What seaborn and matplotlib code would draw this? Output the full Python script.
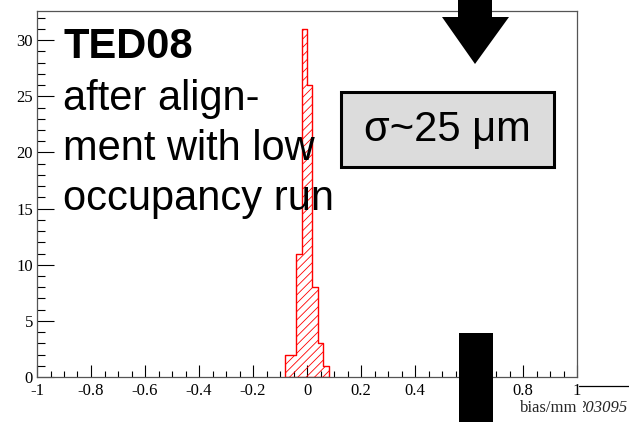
import matplotlib
matplotlib.use("Agg")
import matplotlib.pyplot as plt
from matplotlib.patches import Rectangle, Polygon
from matplotlib.lines import Line2D
from matplotlib.ticker import MultipleLocator
from matplotlib.transforms import Bbox
import numpy as np
import pandas as pd
import seaborn as sns

# residual histogram (bins of 0.02 mm)
binEdges = [-0.08, -0.06, -0.04, -0.02, 0.0, 0.02, 0.04, 0.06, 0.08]
binCounts = [2, 2, 11, 31, 26, 8, 3, 1]
xTicks = [-1, -0.8, -0.6, -0.4, -0.2, 0, 0.2, 0.4, 0.6, 0.8, 1]
xTickLabels = ["-1", "-0.8", "-0.6", "-0.4", "-0.2", "0", "0.2", "0.4", "0.6", "0.8", "1"]
yTicks = [0, 5, 10, 15, 20, 25, 30]
textLines = ["TED08", "after align-", "ment with low", "occupancy run"]
sigmaText = "σ~25 μm"

W, H = 629, 422

sns.set_style("white")
plt.rcParams["hatch.linewidth"] = 0.6
plt.rcParams["hatch.color"] = "red"
plt.rcParams["font.family"] = ["Liberation Serif", "DejaVu Serif"]

df = pd.DataFrame({
    "bias": [(binEdges[i] + binEdges[i + 1]) / 2 for i in range(len(binCounts))],
    "count": binCounts,
})

fig = plt.figure(figsize=(W / 100, H / 100), dpi=100)
ax = fig.add_axes([37 / W, (H - 377) / H, 540 / W, 366 / H])

sns.histplot(data=df, x="bias", weights="count", bins=binEdges, element="step",
             fill=True, color="red", linewidth=1.0, ax=ax)
for coll in ax.collections:
    coll.set_facecolor("none")
    coll.set_edgecolor("red")
    coll.set_hatch("////")

ax.set_xlim(-1, 1)
ax.set_ylim(0, 32.6)
ax.set_xlabel("")
ax.set_ylabel("")
ax.set_xticks(xTicks)
ax.set_xticklabels(xTickLabels)
ax.set_yticks(yTicks)
ax.xaxis.set_minor_locator(MultipleLocator(0.05))
ax.yaxis.set_minor_locator(MultipleLocator(1))
ax.tick_params(axis="both", which="both", direction="in", colors="black",
               labelsize=12, width=0.8, bottom=True, left=True, top=False, right=False)
ax.tick_params(axis="y", which="major", length=12, pad=3)
ax.tick_params(axis="y", which="minor", length=6)
ax.tick_params(axis="x", which="major", length=8.5, pad=4)
ax.tick_params(axis="x", which="minor", length=4.3)
for s in ax.spines.values():
    s.set_visible(True)
    s.set_color("#555555")
    s.set_linewidth(0.9)
ax.grid(False)


def px(x, y):
    return (x / W, 1 - y / H)


# axis title and (partly hidden) run number
fig.text(*px(577, 408), "bias/mm", ha="right", va="center", fontsize=12)
rt = fig.text(*px(578, 408), "203095", ha="left", va="center", fontsize=12, style="italic")
rt.set_clip_box(Bbox([[583, 0], [W, H]]))
rt.set_clip_on(True)
fig.add_artist(Line2D([579 / W, 1], [1 - 386 / H] * 2, color="black", lw=0.9,
                      transform=fig.transFigure))

# slide annotations
sans = ["Liberation Sans", "DejaVu Sans"]
baselines = [58, 110, 160, 210]
for i, (line, yb) in enumerate(zip(textLines, baselines)):
    fig.text(*px(63, yb), line, ha="left", va="baseline", fontsize=30,
             family=sans, fontweight="bold" if i == 0 else "normal", color="black")

fig.add_artist(Rectangle(px(341, 167), 213 / W, 75 / H, transform=fig.transFigure,
                         facecolor="#dcdcdc", edgecolor="black", linewidth=2.2, zorder=4))
fig.text(*px(447, 130), sigmaText, ha="center", va="center", fontsize=30, family=sans,
         color="black", zorder=5)

# arrows / markers
fig.add_artist(Rectangle(px(458, 18), 34 / W, 18 / H, transform=fig.transFigure,
                         facecolor="black", edgecolor="none"))
fig.add_artist(Polygon([px(442, 17), px(509, 17), px(475, 64)], closed=True,
                       transform=fig.transFigure, facecolor="black", edgecolor="none"))
fig.add_artist(Rectangle(px(459, 422), 34 / W, 89 / H, transform=fig.transFigure,
                         facecolor="black", edgecolor="none", zorder=10))

fig.savefig("out.png", dpi=100)
